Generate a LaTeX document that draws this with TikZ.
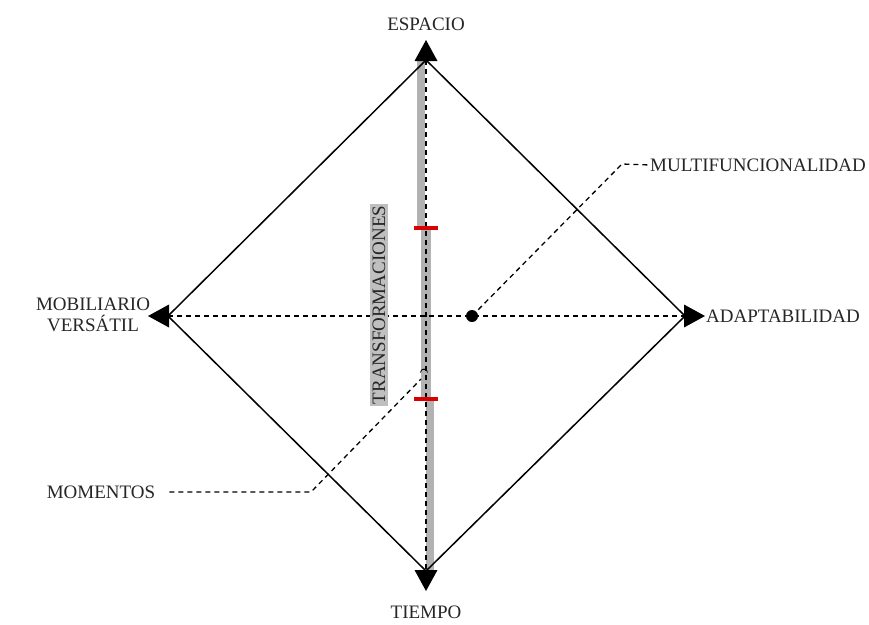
\documentclass[tikz,border=0pt]{standalone}
\usepackage{fontspec}
\setmainfont{Liberation Serif}
\begin{document}
\begin{tikzpicture}[x=1pt,y=-1pt,
  lbl/.style={font=\fontsize{19}{22}\selectfont, inner sep=0pt, text=black!85},
  dashline/.style={line width=1.3pt, dash pattern=on 5pt off 4pt},
  edge/.style={line width=1.5pt, line join=miter},
  head/.style={fill=black},
  greybar/.style={line width=8pt, draw=black!30},
  tick/.style={line width=3.2pt, draw=red!85!black}]
\useasboundingbox (0,0) rectangle (869,624);
\fill[white] (0,0) rectangle (869,624);
% vertices
\coordinate (T) at (426,60);
\coordinate (R) at (685,316);
\coordinate (B) at (426,571);
\coordinate (L) at (168,316);
% grey bar
\coordinate (g1) at (421,60);
\coordinate (g2) at (421,228);
\coordinate (g3) at (425.5,228);
\coordinate (g4) at (425.5,399);
\coordinate (g5) at (429.5,399);
\coordinate (g6) at (429.5,571);
\draw[greybar] (g1) -- (g2);
\draw[greybar, line width=10pt] (g3) -- (g4);
\draw[greybar] (g5) -- (g6);
% dashed axes
\draw[dashline] (T) -- (B);
\draw[dashline] (L) -- (R);
% red ticks
\coordinate (t1a) at (414,228); \coordinate (t1b) at (438,228);
\coordinate (t2a) at (414,399); \coordinate (t2b) at (438,399);
\draw[tick] (t1a) -- (t1b);
\draw[tick] (t2a) -- (t2b);
% diamond
\draw[edge] (T) -- (R) -- (B) -- (L) -- cycle;
% arrow heads
\fill[head] (426,40) -- (437.5,61) -- (414.5,61) -- cycle;
\fill[head] (426,591) -- (437.5,570) -- (414.5,570) -- cycle;
\fill[head] (148,316) -- (169,304.5) -- (169,327.5) -- cycle;
\fill[head] (705,316) -- (684,304.5) -- (684,327.5) -- cycle;
% labels
\node[lbl] (esp) at (426,24) {ESPACIO};
\node[lbl] (tie) at (426,612) {TIEMPO};
\node[lbl, align=center] (mob) at (93,315) {MOBILIARIO\\[-1pt]VERSÁTIL};
\node[lbl, anchor=west] (ada) at (706,316) {ADAPTABILIDAD};
\node[lbl, anchor=west] (mul) at (650,165) {MULTIFUNCIONALIDAD};
\node[lbl] (mom) at (101,492) {MOMENTOS};
\node[lbl, fill=black!25, rotate=90, inner xsep=2pt, inner ysep=3pt] (tra) at (379,305) {TRANSFORMACIONES};
% multifuncionalidad leader
\node[circle, fill=black, inner sep=0pt, minimum size=12pt] (dot) at (472,316) {};
\coordinate (m1) at (622,164);
\draw[dashline] (dot.center) -- (m1) -- (mul.west);
% momentos leader
\coordinate (n1) at (311,492);
\coordinate (n2) at (421,379);
\draw[dashline] (mom.east) ++(14,0) coordinate (n0) -- (n1) -- (n2);
\draw[line width=0.8pt] (420.5,372.5) arc[start angle=180, end angle=360, radius=3.5];
\draw[line width=0.8pt] (421.5,369) -- (426.5,369);
\end{tikzpicture}
\end{document}
